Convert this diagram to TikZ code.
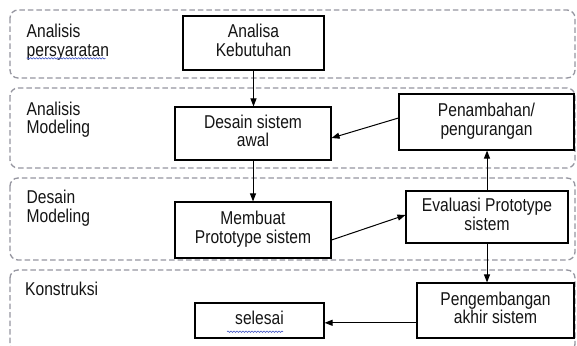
\documentclass[tikz,border=0pt]{standalone}
\usepackage{fontspec}
\usepackage{graphicx}
\setmainfont{Liberation Sans}
\usetikzlibrary{arrows.meta,calc,decorations.pathmorphing}
\definecolor{lanecol}{RGB}{150,150,160}
\definecolor{txtcol}{RGB}{20,20,20}
\definecolor{wavecol}{RGB}{70,90,200}
\newcommand{\txc}[1]{\scalebox{1}[1.19]{\begin{tabular}[t]{@{}c@{}}#1\end{tabular}}}
\newcommand{\txl}[1]{\scalebox{1}[1.19]{\begin{tabular}[t]{@{}l@{}}#1\end{tabular}}}
\begin{document}
\begin{tikzpicture}[x=1pt,y=-1pt,
  lane/.style={draw=lanecol, line width=1.3pt, dash pattern=on 5.5pt off 3pt, rounded corners=8pt},
  box/.style={draw=black, line width=1.1pt, fill=white, inner sep=0pt, text=txtcol,
    font=\fontsize{15.6}{15.4}\selectfont},
  lanelabel/.style={anchor=base west, inner sep=0pt, text=txtcol,
    font=\fontsize{15.6}{15.4}\selectfont},
  arr/.style={draw=black, line width=1pt, -{Triangle[length=8pt,width=6pt]}},
  wave/.style={draw=wavecol, line width=0.6pt, decorate, decoration={snake, amplitude=0.7pt, segment length=3pt}}
]
\useasboundingbox (0,0) rectangle (577,345);
\fill[white] (0,0) rectangle (577,345);
\begin{scope}
\clip (0,0) rectangle (577,345);
\draw[lane] (10,10) rectangle (575,78);
\draw[lane] (10,88) rectangle (575,168);
\draw[lane] (10,178) rectangle (575,260);
\draw[lane] (10,270) rectangle (575,352);
\end{scope}

% lane labels
\node[lanelabel] (l1) at (26.5,37.7) {\txl{Analisis\\persyaratan}};
\node[lanelabel] (l2) at (26.5,115) {\txl{Analisis\\Modeling}};
\node[lanelabel] (l3) at (26.5,203.3) {\txl{Desain\\Modeling}};
\node[lanelabel] (l4) at (25,295) {\txl{Konstruksi}};

% boxes
\node[box, minimum width=141pt, minimum height=54pt] (ak) at (253.5,43) {\txc{Analisa\\Kebutuhan}};
\node[box, minimum width=156pt, minimum height=53pt] (ds) at (253,133.5) {\txc{Desain sistem\\awal}};
\node[box, minimum width=175pt, minimum height=56pt] (pp) at (486.5,122) {\txc{Penambahan/\\pengurangan}};
\node[box, minimum width=156pt, minimum height=56pt] (mp) at (253,230) {\raisebox{-2pt}{\txc{Membuat\\Prototype sistem}}};
\node[box, minimum width=162pt, minimum height=52pt] (ep) at (487,217) {\txc{Evaluasi Prototype\\sistem}};
\node[box, minimum width=157pt, minimum height=55pt] (pa) at (495.5,310.5) {\txc{Pengembangan\\akhir sistem}};
\node[box, minimum width=129pt, minimum height=35pt] (se) at (259.5,320.5) {\txc{selesai}};

% spell-check underlines
\draw[wave] (26.7,58.3) -- (105.7,58.3);
\draw[wave] (227,331.7) -- (283,331.7);

% connectors
\draw[arr] (ak.south) -- (ak.south |- ds.north);
\draw[arr] (ds.south) -- (ds.south |- mp.north);
\draw[arr] ($(pp.west)+(0,-4)$) -- ($(ds.east)+(0,4.5)$);
\draw[arr] ($(mp.east)+(0,10)$) -- ($(ep.west)+(0,-2)$);
\draw[arr] (ep.north) -- (ep.north |- pp.south);
\draw[arr] (ep.south) -- (ep.south |- pa.north);
\coordinate (sein) at ($(se.east)+(0,2.3)$);
\draw[arr] (pa.west |- sein) -- (sein);
\end{tikzpicture}
\end{document}
